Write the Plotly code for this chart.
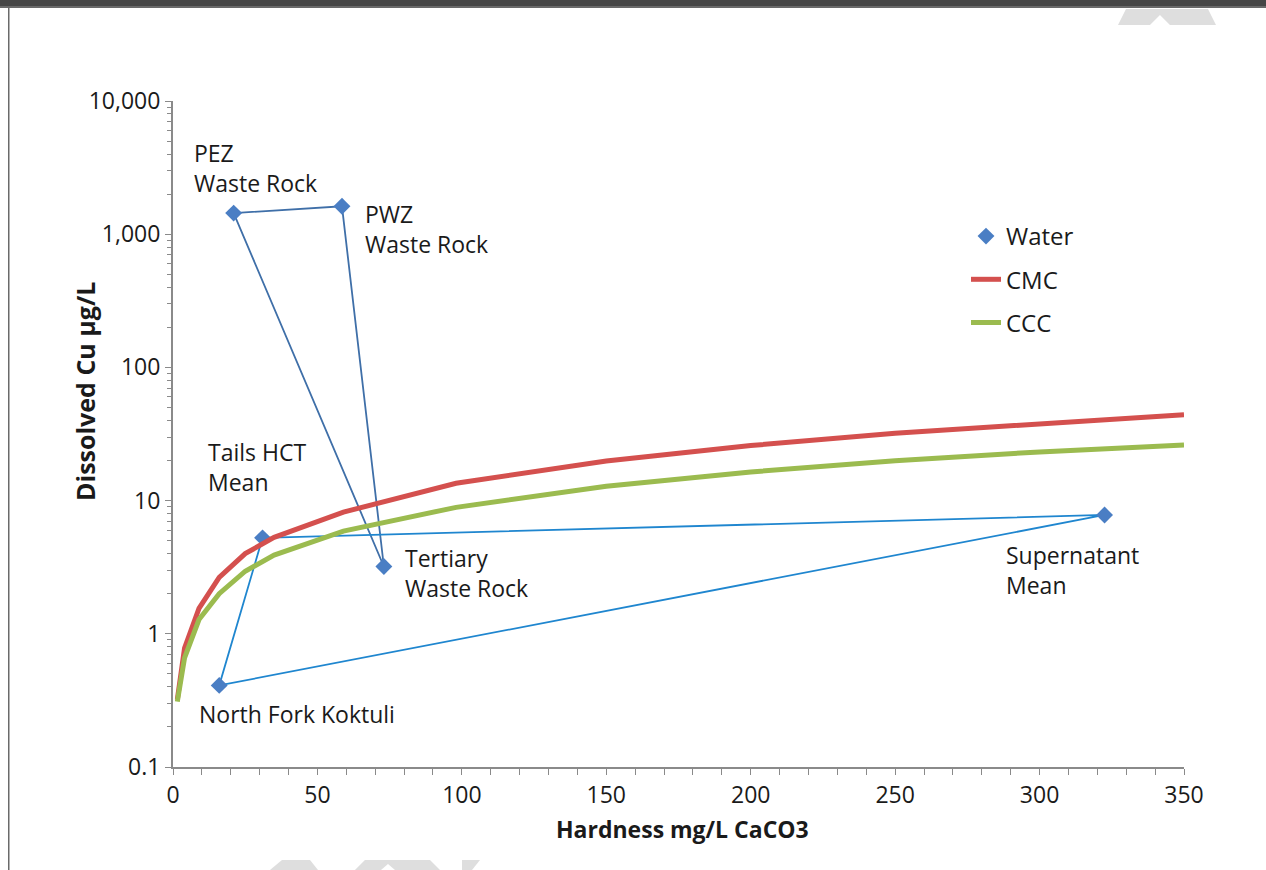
import math
import plotly.graph_objects as go

# Water samples (hardness mg/L CaCO3, dissolved Cu ug/L)
waste_names = ["PEZ Waste Rock", "PWZ Waste Rock", "Tertiary Waste Rock"]
waste_x = [21, 58.5, 73]
waste_y = [1440, 1620, 3.2]

other_names = ["Tails HCT Mean", "Supernatant Mean", "North Fork Koktuli"]
other_x = [31, 322.5, 16]
other_y = [5.25, 7.8, 0.41]

# criteria curves
crit_x = [1.5, 4, 9, 16, 25, 35, 59, 98, 150, 200, 250, 300, 350]
cmc_y = [0.32, 0.78, 1.55, 2.65, 4.0, 5.3, 8.2, 13.5, 19.8, 25.9, 32.0, 38.0, 44.2]
ccc_y = [0.31, 0.66, 1.28, 2.0, 2.95, 3.9, 5.9, 8.9, 12.8, 16.4, 19.9, 23.2, 26.2]

ytick_vals = [0.1, 1, 10, 100, 1000, 10000]
ytick_text = ["0.1", "1", "10", "100", "1,000", "10,000"]

# label text, left x, centre y
labels = [
    ("PEZ<br>Waste Rock", 6.6, 3150),
    ("PWZ<br>Waste Rock", 65.8, 1090),
    ("Tails HCT<br>Mean", 11.4, 17.9),
    ("Tertiary<br>Waste Rock", 79.6, 2.86),
    ("Supernatant<br>Mean", 287.7, 3.01),
    ("North Fork Koktuli", 8.3, 0.25),
]

FONT = "Open Sans"
L, R, T, B = 173, 82, 101, 103
W, H = 1266 - L - R, 870 - T - B


def px(x, y):
    # page pixel -> paper coords (for decoration only)
    return (x - L) / W, (870 - B - y) / H


fig = go.Figure()

# triangles joining the samples
fig.add_trace(go.Scatter(
    x=waste_x + waste_x[:1], y=waste_y + waste_y[:1], mode="lines",
    line=dict(color="#3f6fa8", width=1.8), showlegend=False, hoverinfo="skip"))
fig.add_trace(go.Scatter(
    x=other_x + other_x[:1], y=other_y + other_y[:1], mode="lines",
    line=dict(color="#1f86cf", width=1.8), showlegend=False, hoverinfo="skip"))

fig.add_trace(go.Scatter(
    x=waste_x + other_x, y=waste_y + other_y, mode="markers", name="Water",
    text=waste_names + other_names, legendgroup="w",
    marker=dict(symbol="diamond", size=13, color="#4a7ec4")))
fig.add_trace(go.Scatter(
    x=crit_x, y=cmc_y, mode="lines", name="CMC", legendgroup="cmc",
    line=dict(color="#d4504e", width=5)))
fig.add_trace(go.Scatter(
    x=crit_x, y=ccc_y, mode="lines", name="CCC", legendgroup="ccc",
    line=dict(color="#9bbb4f", width=5)))

for txt, lx, ly in labels:
    fig.add_annotation(x=lx, y=math.log10(ly), text=txt, showarrow=False,
                       xanchor="left", yanchor="middle", align="left",
                       font=dict(family=FONT, size=23, color="#1a1a1a"))

# axis titles
fig.add_annotation(xref="paper", yref="paper", x=px(85, 0)[0], y=px(0, 392)[1],
                   xanchor="center", yanchor="middle",
                   text="<b>Dissolved Cu µg/L</b>", textangle=-90, showarrow=False,
                   font=dict(family=FONT, size=25, color="#1a1a1a"))
fig.add_annotation(xref="paper", yref="paper", x=px(682, 0)[0], y=px(0, 829)[1],
                   xanchor="center", yanchor="middle",
                   text="<b>Hardness mg/L CaCO3</b>", showarrow=False,
                   font=dict(family=FONT, size=23, color="#1a1a1a"))

# page decoration: dark top bar, left rule, faint chevrons
x0, y0 = px(0, 0)
x1, y1 = px(1266, 6)
fig.add_shape(type="rect", xref="paper", yref="paper", x0=x0, x1=x1, y0=y1, y1=y0,
              fillcolor="#464646", line_width=0, layer="above")
xa, ya = px(0, 6)
xb, yb = px(1266, 8)
fig.add_shape(type="rect", xref="paper", yref="paper", x0=xa, x1=xb, y0=yb, y1=ya,
              fillcolor="#6a6a6a", line_width=0, layer="above")
lx0, ly0 = px(8, 8)
lx1, ly1 = px(9.5, 870)
fig.add_shape(type="rect", xref="paper", yref="paper", x0=lx0, x1=lx1, y0=ly1, y1=ly0,
              fillcolor="#6a6a6a", line_width=0, layer="above")


def chev(points):
    p = [px(a, b) for a, b in points]
    return "M " + " L ".join(f"{a:.5f},{b:.5f}" for a, b in p) + " Z"


for pts in [
    [(1118, 25), (1126, 9), (1208, 9), (1216, 25), (1170, 25), (1160, 15), (1150, 25)],
    [(270, 870), (282, 860), (310, 860), (318, 870)],
    [(355, 870), (365, 860), (430, 860), (440, 870), (395, 870), (388, 864), (381, 870)],
    [(462, 870), (462, 860), (480, 860), (472, 870)],
]:
    fig.add_shape(type="path", xref="paper", yref="paper", path=chev(pts),
                  fillcolor="#dedede", line_width=0, layer="below")

fig.update_layout(
    width=1266, height=870, autosize=False,
    margin=dict(l=L, r=R, t=T, b=B),
    paper_bgcolor="white", plot_bgcolor="white",
    font=dict(family=FONT, color="#1a1a1a"),
    showlegend=True,
    legend=dict(x=px(966, 0)[0], y=px(0, 214)[1], xanchor="left", yanchor="top",
                font=dict(family=FONT, size=24, color="#1a1a1a"),
                traceorder="grouped", tracegroupgap=9, bgcolor="rgba(0,0,0,0)"),
    xaxis=dict(range=[0, 350], tickvals=[0, 50, 100, 150, 200, 250, 300, 350],
               showgrid=False, zeroline=False, showline=True, linecolor="#8a8a8a",
               linewidth=2, ticks="outside", ticklen=6, tickcolor="#8a8a8a",
               tickfont=dict(family=FONT, size=23, color="#1a1a1a"),
               minor=dict(dtick=10, ticks="outside", ticklen=6, tickcolor="#8a8a8a")),
    yaxis=dict(type="log", range=[-1, 4], tickvals=ytick_vals, ticktext=ytick_text,
               showgrid=False, zeroline=False, showline=True, linecolor="#8a8a8a",
               linewidth=2, ticks="outside", ticklen=6, tickcolor="#8a8a8a",
               tickfont=dict(family=FONT, size=23, color="#1a1a1a"),
               minor=dict(dtick="D1", ticks="outside", ticklen=4, tickcolor="#8a8a8a")),
)

fig.write_html("out.html", config={"displayModeBar": False},
               post_script="document.body.style.margin='0';")
